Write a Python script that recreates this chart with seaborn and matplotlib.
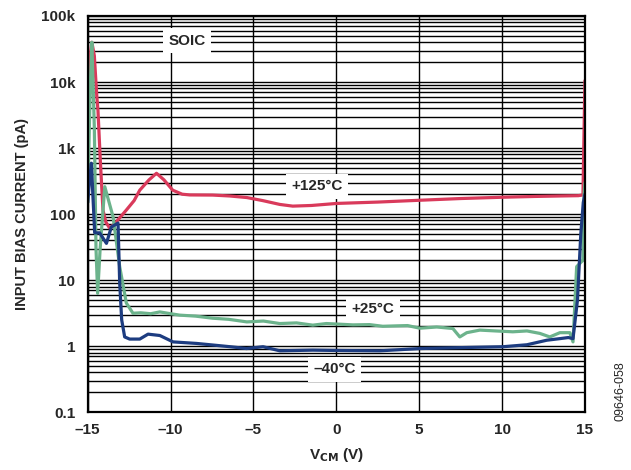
import numpy as np
import pandas as pd
import matplotlib
matplotlib.use("Agg")
import matplotlib.pyplot as plt
import seaborn as sns
from matplotlib.ticker import LogLocator, FixedLocator, NullLocator

# +125°C curve
vcm_125 = [-14.95, -14.85, -14.75, -14.6, -14.45, -14.38, -14.24, -14.08, -13.9, -13.67, -13.3,
           -12.67, -12.2, -11.86, -11.3, -10.85, -10.4, -9.87, -9.3, -8.84, -7.46, -6.43,
           -5.4, -4.44, -3.41, -2.63, -1.5, 0.03, 2.5, 5.04, 7.5, 10.05, 12.0, 13.49, 14.6,
           14.88, 14.95, 15.0]
ib_125 = [3000, 25000, 40000, 25000, 6000, 3700, 650, 115, 75, 61, 75,
          115, 160, 230, 330, 415, 330, 230, 200, 195, 194, 188,
          178, 160, 140, 132, 135, 145, 152, 162, 172, 180, 185, 188, 190,
          195, 2000, 10500]

# +25°C curve
vcm_25 = [-15.0, -14.85, -14.75, -14.6, -14.5, -14.4, -14.25, -13.97, -13.47, -13.07, -12.67,
          -12.27, -11.8, -11.2, -10.65, -10.0, -9.45, -8.5, -7.46, -6.5, -5.4, -4.4,
          -3.41, -2.4, -1.42, -0.6, 0.21, 1.0, 2.0, 2.8, 3.65, 4.3, 5.04, 6.06, 7.03,
          7.45, 7.87, 8.66, 9.6, 10.65, 11.5, 12.28, 12.88, 13.49, 14.09, 14.28, 14.5,
          14.88, 14.95, 15.0]
ib_25 = [150, 8000, 40000, 2000, 30, 6.3, 30, 260, 91, 16, 4.5,
         3.15, 3.2, 3.1, 3.3, 3.1, 2.95, 2.85, 2.65, 2.55, 2.33, 2.4,
         2.2, 2.25, 2.08, 2.2, 2.15, 2.1, 2.12, 2.0, 2.03, 2.05, 1.87, 1.95, 1.85,
         1.38, 1.6, 1.75, 1.7, 1.65, 1.7, 1.56, 1.38, 1.6, 1.6, 1.16, 16,
         20, 200, 300]

# -40°C curve
vcm_m40 = [-15.0, -14.9, -14.78, -14.58, -14.28, -13.87, -13.57, -13.17, -13.07, -12.95, -12.77,
           -12.47, -11.86, -11.36, -10.65, -9.85, -8.44, -7.44, -6.4, -5.42, -4.42, -3.41,
           -1.42, 0.0, 2.62, 5.04, 7.5, 10.05, 11.5, 12.7, 13.49, 14.0, 14.28,
           14.55, 14.75, 14.9, 15.0]
ib_m40 = [150, 300, 590, 52, 52, 36, 64, 73, 9, 2.5, 1.38,
          1.28, 1.28, 1.52, 1.45, 1.16, 1.1, 1.04, 0.98, 0.92, 0.98, 0.85,
          0.87, 0.86, 0.85, 0.92, 0.95, 0.98, 1.05, 1.23, 1.3, 1.35, 1.3,
          5, 50, 150, 200]

temps = ["+125°C", "+25°C", "–40°C"]
colors = ["#d93a5b", "#6cb38c", "#1d3c80"]

df = pd.concat([
    pd.DataFrame({"vcm": vcm_125, "ib": ib_125, "temp": temps[0]}),
    pd.DataFrame({"vcm": vcm_25, "ib": ib_25, "temp": temps[1]}),
    pd.DataFrame({"vcm": vcm_m40, "ib": ib_m40, "temp": temps[2]}),
])

sns.set_style("white")
plt.rcParams["font.family"] = ["Liberation Sans", "DejaVu Sans"]
plt.rcParams["font.weight"] = "bold"

fig = plt.figure(figsize=(6.31, 4.70), dpi=100)
ax = fig.add_axes([0.139, 0.123, 0.788, 0.843])

ax.set_yscale("log")
ax.set_xlim(-15, 15)
ax.set_ylim(0.1, 100000)

# grid: every minor decade line and every 5 V
ax.yaxis.set_major_locator(LogLocator(base=10, numticks=10))
ax.yaxis.set_minor_locator(LogLocator(base=10, subs=np.arange(2, 10), numticks=20))
ax.xaxis.set_major_locator(FixedLocator([-15, -10, -5, 0, 5, 10, 15]))
ax.xaxis.set_minor_locator(NullLocator())
ax.grid(which="both", axis="y", color="black", linewidth=1.0)
ax.grid(which="major", axis="x", color="black", linewidth=1.0)
ax.set_axisbelow(True)

sns.lineplot(data=df, x="vcm", y="ib", hue="temp", palette=colors, sort=False,
             linewidth=2.3, legend=False, ax=ax, estimator=None)

ax.set_yticks([0.1, 1, 10, 100, 1000, 10000, 100000])
ax.set_yticklabels(["0.1", "1", "10", "100", "1k", "10k", "100k"])
ax.set_xticks([-15, -10, -5, 0, 5, 10, 15])
ax.set_xticklabels(["–15", "–10", "–5", "0", "5", "10", "15"])
ax.tick_params(which="both", length=0, labelsize=11)
ax.tick_params(axis="y", pad=9)
ax.tick_params(axis="x", pad=8)
for lab in ax.get_xticklabels() + ax.get_yticklabels():
    lab.set_fontweight("bold")

for s in ax.spines.values():
    s.set_linewidth(1.6)
    s.set_color("black")

ax.set_xlabel(r"V$_{\mathbf{CM}}$ (V)", fontsize=11, fontweight="bold", labelpad=6)
ax.set_ylabel("INPUT BIAS CURRENT (pA)", fontsize=10.5, fontweight="bold", labelpad=9)

box = dict(facecolor="white", edgecolor="none", pad=4)
ax.text(-9.0, 42000, "SOIC", fontsize=11, fontweight="bold", ha="center", va="center", bbox=box)
ax.text(-1.15, 265, "+125°C", fontsize=11, fontweight="bold", ha="center", va="center", bbox=box)
ax.text(2.2, 3.6, "+25°C", fontsize=11, fontweight="bold", ha="center", va="center", bbox=box)
ax.text(-0.1, 0.45, "–40°C", fontsize=11, fontweight="bold", ha="center", va="center", bbox=box)

fig.text(0.984, 0.168, "09646-058", rotation=90, fontsize=9, fontweight="normal",
         ha="center", va="center")

fig.savefig("out.png", dpi=100)
